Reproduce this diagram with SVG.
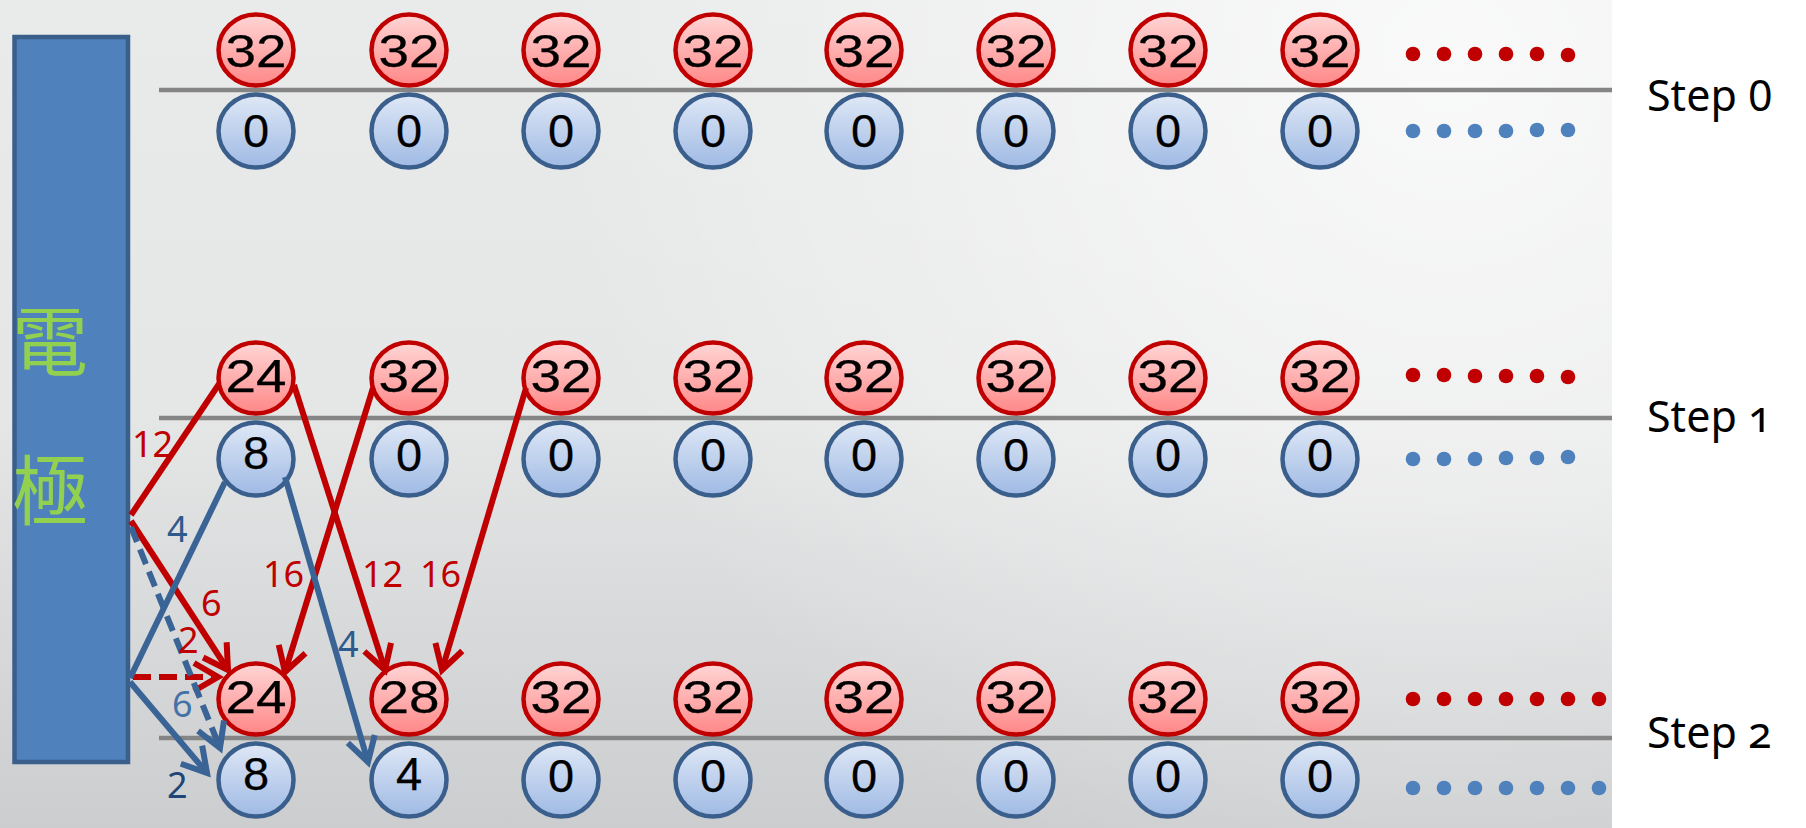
<svg xmlns="http://www.w3.org/2000/svg" width="1806" height="828" viewBox="0 0 1806 828">
  <defs>
    <linearGradient id="bgLin" x1="0" y1="0" x2="0" y2="1">
      <stop offset="0" stop-color="#e9eaea"/>
      <stop offset="0.5" stop-color="#e5e6e6"/>
      <stop offset="1" stop-color="#cbcdcf"/>
    </linearGradient>
    <radialGradient id="bgRad" cx="1450" cy="60" r="900" gradientUnits="userSpaceOnUse">
      <stop offset="0" stop-color="#ffffff" stop-opacity="0.75"/>
      <stop offset="1" stop-color="#ffffff" stop-opacity="0"/>
    </radialGradient>
    <linearGradient id="redFill" x1="0" y1="0" x2="0" y2="1">
      <stop offset="0" stop-color="#ffd6d6"/>
      <stop offset="1" stop-color="#ff8787"/>
    </linearGradient>
    <linearGradient id="blueFill" x1="0" y1="0" x2="0" y2="1">
      <stop offset="0" stop-color="#dfe8f6"/>
      <stop offset="1" stop-color="#9fbae4"/>
    </linearGradient>
    <marker id="arrRed" markerUnits="userSpaceOnUse" markerWidth="40" markerHeight="40" viewBox="-30 -20 40 40" refX="0" refY="0" orient="auto" overflow="visible">
      <path d="M-24,-14 L0,0 L-24,14" fill="none" stroke="#c00000" stroke-width="6" stroke-linejoin="miter"/>
    </marker>
    <marker id="arrBlue" markerUnits="userSpaceOnUse" markerWidth="40" markerHeight="40" viewBox="-30 -20 40 40" refX="0" refY="0" orient="auto" overflow="visible">
      <path d="M-24,-14 L0,0 L-24,14" fill="none" stroke="#3a6496" stroke-width="6" stroke-linejoin="miter"/>
    </marker>
  </defs>
  <style>
    .red ellipse { fill: url(#redFill); stroke: #c00000; stroke-width: 4.5; }
    .blue ellipse { fill: url(#blueFill); stroke: #3b5f8c; stroke-width: 4.5; }
    .num { font-family: "Liberation Sans", Arial, sans-serif; font-size: 47px; fill: #000; stroke: #000; stroke-width: 0.25; text-anchor: middle; }
    .sep { stroke: #858585; stroke-width: 4.5; }
    .rdot { fill: #c00000; }
    .bdot { fill: #4f81bd; }
    .step { font-family: "Noto Sans", "Open Sans", sans-serif; font-size: 43px; fill: #000; }
    .onum { font-variant-numeric: oldstyle-nums; font-feature-settings: "onum" 1; }
    .lbl { font-family: "Noto Sans", "Open Sans", sans-serif; font-size: 36px; }
    .lr { fill: #c00000; }
    .lb { fill: #2e5a8c; }
    .cr { stroke: #c00000; stroke-width: 6; fill: none; }
    .cb { stroke: #3a6496; stroke-width: 6; fill: none; }
  </style>

  <!-- background -->
  <rect x="0" y="0" width="1806" height="828" fill="#ffffff"/>
  <rect x="0" y="0" width="1612" height="828" fill="url(#bgLin)"/>
  <rect x="0" y="0" width="1612" height="828" fill="url(#bgRad)"/>

  <!-- separator lines -->
  <g id="separators">
    <line class="sep" x1="159" y1="90" x2="1612" y2="90"/>
    <line class="sep" x1="159" y1="418" x2="1612" y2="418"/>
    <line class="sep" x1="159" y1="738" x2="1612" y2="738"/>
  </g>

  <!-- electrode -->
  <g id="electrode">
    <rect x="14.5" y="37" width="113.5" height="725" fill="#4f81bd" stroke="#3a5f8b" stroke-width="4.5"/>
    <text x="50" y="370" font-family="'Noto Sans CJK TC', 'Noto Sans CJK SC', sans-serif" font-size="76" fill="#92d050" text-anchor="middle">電</text>
    <text x="50" y="519" font-family="'Noto Sans CJK TC', 'Noto Sans CJK SC', sans-serif" font-size="76" fill="#92d050" text-anchor="middle">極</text>
  </g>

  <!-- Step 0 -->
  <g id="s0-r0" class="red"><ellipse cx="256" cy="50" rx="37.5" ry="35.5"/><text class="num" x="256" y="67" textLength="61" lengthAdjust="spacingAndGlyphs">32</text></g>
  <g id="s0-r1" class="red"><ellipse cx="409" cy="50" rx="37.5" ry="35.5"/><text class="num" x="409" y="67" textLength="61" lengthAdjust="spacingAndGlyphs">32</text></g>
  <g id="s0-r2" class="red"><ellipse cx="561" cy="50" rx="37.5" ry="35.5"/><text class="num" x="561" y="67" textLength="61" lengthAdjust="spacingAndGlyphs">32</text></g>
  <g id="s0-r3" class="red"><ellipse cx="713" cy="50" rx="37.5" ry="35.5"/><text class="num" x="713" y="67" textLength="61" lengthAdjust="spacingAndGlyphs">32</text></g>
  <g id="s0-r4" class="red"><ellipse cx="864" cy="50" rx="37.5" ry="35.5"/><text class="num" x="864" y="67" textLength="61" lengthAdjust="spacingAndGlyphs">32</text></g>
  <g id="s0-r5" class="red"><ellipse cx="1016" cy="50" rx="37.5" ry="35.5"/><text class="num" x="1016" y="67" textLength="61" lengthAdjust="spacingAndGlyphs">32</text></g>
  <g id="s0-r6" class="red"><ellipse cx="1168" cy="50" rx="37.5" ry="35.5"/><text class="num" x="1168" y="67" textLength="61" lengthAdjust="spacingAndGlyphs">32</text></g>
  <g id="s0-r7" class="red"><ellipse cx="1320" cy="50" rx="37.5" ry="35.5"/><text class="num" x="1320" y="67" textLength="61" lengthAdjust="spacingAndGlyphs">32</text></g>

  <g id="s0-b0" class="blue"><ellipse cx="256" cy="131" rx="37.5" ry="36.5"/><text class="num" x="256" y="147">0</text></g>
  <g id="s0-b1" class="blue"><ellipse cx="409" cy="131" rx="37.5" ry="36.5"/><text class="num" x="409" y="147">0</text></g>
  <g id="s0-b2" class="blue"><ellipse cx="561" cy="131" rx="37.5" ry="36.5"/><text class="num" x="561" y="147">0</text></g>
  <g id="s0-b3" class="blue"><ellipse cx="713" cy="131" rx="37.5" ry="36.5"/><text class="num" x="713" y="147">0</text></g>
  <g id="s0-b4" class="blue"><ellipse cx="864" cy="131" rx="37.5" ry="36.5"/><text class="num" x="864" y="147">0</text></g>
  <g id="s0-b5" class="blue"><ellipse cx="1016" cy="131" rx="37.5" ry="36.5"/><text class="num" x="1016" y="147">0</text></g>
  <g id="s0-b6" class="blue"><ellipse cx="1168" cy="131" rx="37.5" ry="36.5"/><text class="num" x="1168" y="147">0</text></g>
  <g id="s0-b7" class="blue"><ellipse cx="1320" cy="131" rx="37.5" ry="36.5"/><text class="num" x="1320" y="147">0</text></g>

  <!-- Step 1 -->
  <g id="s1-r0" class="red"><ellipse cx="256" cy="378" rx="37.5" ry="35.5"/><text class="num" x="256" y="392" textLength="61" lengthAdjust="spacingAndGlyphs">24</text></g>
  <g id="s1-r1" class="red"><ellipse cx="409" cy="378" rx="37.5" ry="35.5"/><text class="num" x="409" y="392" textLength="61" lengthAdjust="spacingAndGlyphs">32</text></g>
  <g id="s1-r2" class="red"><ellipse cx="561" cy="378" rx="37.5" ry="35.5"/><text class="num" x="561" y="392" textLength="61" lengthAdjust="spacingAndGlyphs">32</text></g>
  <g id="s1-r3" class="red"><ellipse cx="713" cy="378" rx="37.5" ry="35.5"/><text class="num" x="713" y="392" textLength="61" lengthAdjust="spacingAndGlyphs">32</text></g>
  <g id="s1-r4" class="red"><ellipse cx="864" cy="378" rx="37.5" ry="35.5"/><text class="num" x="864" y="392" textLength="61" lengthAdjust="spacingAndGlyphs">32</text></g>
  <g id="s1-r5" class="red"><ellipse cx="1016" cy="378" rx="37.5" ry="35.5"/><text class="num" x="1016" y="392" textLength="61" lengthAdjust="spacingAndGlyphs">32</text></g>
  <g id="s1-r6" class="red"><ellipse cx="1168" cy="378" rx="37.5" ry="35.5"/><text class="num" x="1168" y="392" textLength="61" lengthAdjust="spacingAndGlyphs">32</text></g>
  <g id="s1-r7" class="red"><ellipse cx="1320" cy="378" rx="37.5" ry="35.5"/><text class="num" x="1320" y="392" textLength="61" lengthAdjust="spacingAndGlyphs">32</text></g>

  <g id="s1-b0" class="blue"><ellipse cx="256" cy="459" rx="37.5" ry="36.5"/><text class="num" x="256" y="469">8</text></g>
  <g id="s1-b1" class="blue"><ellipse cx="409" cy="459" rx="37.5" ry="36.5"/><text class="num" x="409" y="471">0</text></g>
  <g id="s1-b2" class="blue"><ellipse cx="561" cy="459" rx="37.5" ry="36.5"/><text class="num" x="561" y="471">0</text></g>
  <g id="s1-b3" class="blue"><ellipse cx="713" cy="459" rx="37.5" ry="36.5"/><text class="num" x="713" y="471">0</text></g>
  <g id="s1-b4" class="blue"><ellipse cx="864" cy="459" rx="37.5" ry="36.5"/><text class="num" x="864" y="471">0</text></g>
  <g id="s1-b5" class="blue"><ellipse cx="1016" cy="459" rx="37.5" ry="36.5"/><text class="num" x="1016" y="471">0</text></g>
  <g id="s1-b6" class="blue"><ellipse cx="1168" cy="459" rx="37.5" ry="36.5"/><text class="num" x="1168" y="471">0</text></g>
  <g id="s1-b7" class="blue"><ellipse cx="1320" cy="459" rx="37.5" ry="36.5"/><text class="num" x="1320" y="471">0</text></g>

  <!-- Step 2 -->
  <g id="s2-r0" class="red"><ellipse cx="256" cy="699" rx="37.5" ry="35.5"/><text class="num" x="256" y="713" textLength="61" lengthAdjust="spacingAndGlyphs">24</text></g>
  <g id="s2-r1" class="red"><ellipse cx="409" cy="699" rx="37.5" ry="35.5"/><text class="num" x="409" y="713" textLength="61" lengthAdjust="spacingAndGlyphs">28</text></g>
  <g id="s2-r2" class="red"><ellipse cx="561" cy="699" rx="37.5" ry="35.5"/><text class="num" x="561" y="713" textLength="61" lengthAdjust="spacingAndGlyphs">32</text></g>
  <g id="s2-r3" class="red"><ellipse cx="713" cy="699" rx="37.5" ry="35.5"/><text class="num" x="713" y="713" textLength="61" lengthAdjust="spacingAndGlyphs">32</text></g>
  <g id="s2-r4" class="red"><ellipse cx="864" cy="699" rx="37.5" ry="35.5"/><text class="num" x="864" y="713" textLength="61" lengthAdjust="spacingAndGlyphs">32</text></g>
  <g id="s2-r5" class="red"><ellipse cx="1016" cy="699" rx="37.5" ry="35.5"/><text class="num" x="1016" y="713" textLength="61" lengthAdjust="spacingAndGlyphs">32</text></g>
  <g id="s2-r6" class="red"><ellipse cx="1168" cy="699" rx="37.5" ry="35.5"/><text class="num" x="1168" y="713" textLength="61" lengthAdjust="spacingAndGlyphs">32</text></g>
  <g id="s2-r7" class="red"><ellipse cx="1320" cy="699" rx="37.5" ry="35.5"/><text class="num" x="1320" y="713" textLength="61" lengthAdjust="spacingAndGlyphs">32</text></g>

  <g id="s2-b0" class="blue"><ellipse cx="256" cy="780" rx="37.5" ry="36.5"/><text class="num" x="256" y="790">8</text></g>
  <g id="s2-b1" class="blue"><ellipse cx="409" cy="780" rx="37.5" ry="36.5"/><text class="num" x="409" y="790">4</text></g>
  <g id="s2-b2" class="blue"><ellipse cx="561" cy="780" rx="37.5" ry="36.5"/><text class="num" x="561" y="792">0</text></g>
  <g id="s2-b3" class="blue"><ellipse cx="713" cy="780" rx="37.5" ry="36.5"/><text class="num" x="713" y="792">0</text></g>
  <g id="s2-b4" class="blue"><ellipse cx="864" cy="780" rx="37.5" ry="36.5"/><text class="num" x="864" y="792">0</text></g>
  <g id="s2-b5" class="blue"><ellipse cx="1016" cy="780" rx="37.5" ry="36.5"/><text class="num" x="1016" y="792">0</text></g>
  <g id="s2-b6" class="blue"><ellipse cx="1168" cy="780" rx="37.5" ry="36.5"/><text class="num" x="1168" y="792">0</text></g>
  <g id="s2-b7" class="blue"><ellipse cx="1320" cy="780" rx="37.5" ry="36.5"/><text class="num" x="1320" y="792">0</text></g>

  <!-- continuation dots -->
  <g id="dots">
    <circle class="rdot" cx="1413" cy="54" r="7.3"/><circle class="rdot" cx="1444" cy="54" r="7.3"/><circle class="rdot" cx="1475" cy="54" r="7.3"/><circle class="rdot" cx="1506" cy="54" r="7.3"/><circle class="rdot" cx="1537" cy="54" r="7.3"/><circle class="rdot" cx="1568" cy="55" r="7.3"/>
    <circle class="bdot" cx="1413" cy="131" r="7.3"/><circle class="bdot" cx="1444" cy="131" r="7.3"/><circle class="bdot" cx="1475" cy="131" r="7.3"/><circle class="bdot" cx="1506" cy="131" r="7.3"/><circle class="bdot" cx="1537" cy="130" r="7.3"/><circle class="bdot" cx="1568" cy="130" r="7.3"/>
    <circle class="rdot" cx="1413" cy="375" r="7.3"/><circle class="rdot" cx="1444" cy="375" r="7.3"/><circle class="rdot" cx="1475" cy="376" r="7.3"/><circle class="rdot" cx="1506" cy="376" r="7.3"/><circle class="rdot" cx="1537" cy="376" r="7.3"/><circle class="rdot" cx="1568" cy="377" r="7.3"/>
    <circle class="bdot" cx="1413" cy="459" r="7.3"/><circle class="bdot" cx="1444" cy="459" r="7.3"/><circle class="bdot" cx="1475" cy="459" r="7.3"/><circle class="bdot" cx="1506" cy="458" r="7.3"/><circle class="bdot" cx="1537" cy="458" r="7.3"/><circle class="bdot" cx="1568" cy="457" r="7.3"/>
    <circle class="rdot" cx="1413" cy="699" r="7.3"/><circle class="rdot" cx="1444" cy="699" r="7.3"/><circle class="rdot" cx="1475" cy="699" r="7.3"/><circle class="rdot" cx="1506" cy="699" r="7.3"/><circle class="rdot" cx="1537" cy="699" r="7.3"/><circle class="rdot" cx="1568" cy="699" r="7.3"/><circle class="rdot" cx="1599" cy="699" r="7.3"/>
    <circle class="bdot" cx="1413" cy="788" r="7.3"/><circle class="bdot" cx="1444" cy="788" r="7.3"/><circle class="bdot" cx="1475" cy="788" r="7.3"/><circle class="bdot" cx="1506" cy="788" r="7.3"/><circle class="bdot" cx="1537" cy="788" r="7.3"/><circle class="bdot" cx="1568" cy="788" r="7.3"/><circle class="bdot" cx="1599" cy="788" r="7.3"/>
  </g>

  <!-- step labels -->
  <g id="step-labels">
    <text class="step" x="1647" y="111">Step 0</text>
    <text class="step" x="1647" y="432">Step <tspan class="onum">1</tspan></text>
    <text class="step" x="1647" y="748">Step <tspan class="onum">2</tspan></text>
  </g>

  <!-- connectors -->
  <g id="connectors">
    <line class="cr" x1="131" y1="515" x2="219" y2="384"/>
    <line class="cr" x1="131" y1="521" x2="228" y2="670" marker-end="url(#arrRed)"/>
    <line class="cr" x1="133" y1="677" x2="218" y2="677" stroke-dasharray="18 8" marker-end="url(#arrRed)"/>
    <line class="cr" x1="294" y1="385" x2="385" y2="670" marker-end="url(#arrRed)"/>
    <line class="cr" x1="373" y1="388" x2="285" y2="672" marker-end="url(#arrRed)"/>
    <line class="cr" x1="526" y1="388" x2="442" y2="670" marker-end="url(#arrRed)"/>
    <line class="cb" x1="225" y1="482" x2="130" y2="678"/>
    <line class="cb" x1="285" y1="477" x2="368" y2="762" marker-end="url(#arrBlue)"/>
    <line class="cb" x1="131" y1="527" x2="220" y2="748" stroke-dasharray="16 8" marker-end="url(#arrBlue)"/>
    <line class="cb" x1="130" y1="682" x2="207" y2="773" marker-end="url(#arrBlue)"/>
  </g>

  <!-- connector labels -->
  <g id="connector-labels">
    <text class="lbl lr" x="132" y="457">12</text>
    <text class="lbl lr" x="201" y="616">6</text>
    <text class="lbl lr" x="178" y="653">2</text>
    <text class="lbl lr" x="263" y="587">16</text>
    <text class="lbl lr" x="362" y="587">12</text>
    <text class="lbl lr" x="420" y="587">16</text>
    <text class="lbl lb" x="167" y="542">4</text>
    <text class="lbl lb" x="338" y="657">4</text>
    <text class="lbl" x="172" y="717" fill="#4472a8">6</text>
    <text class="lbl" x="167" y="798" fill="#1f4577">2</text>
  </g>
</svg>
